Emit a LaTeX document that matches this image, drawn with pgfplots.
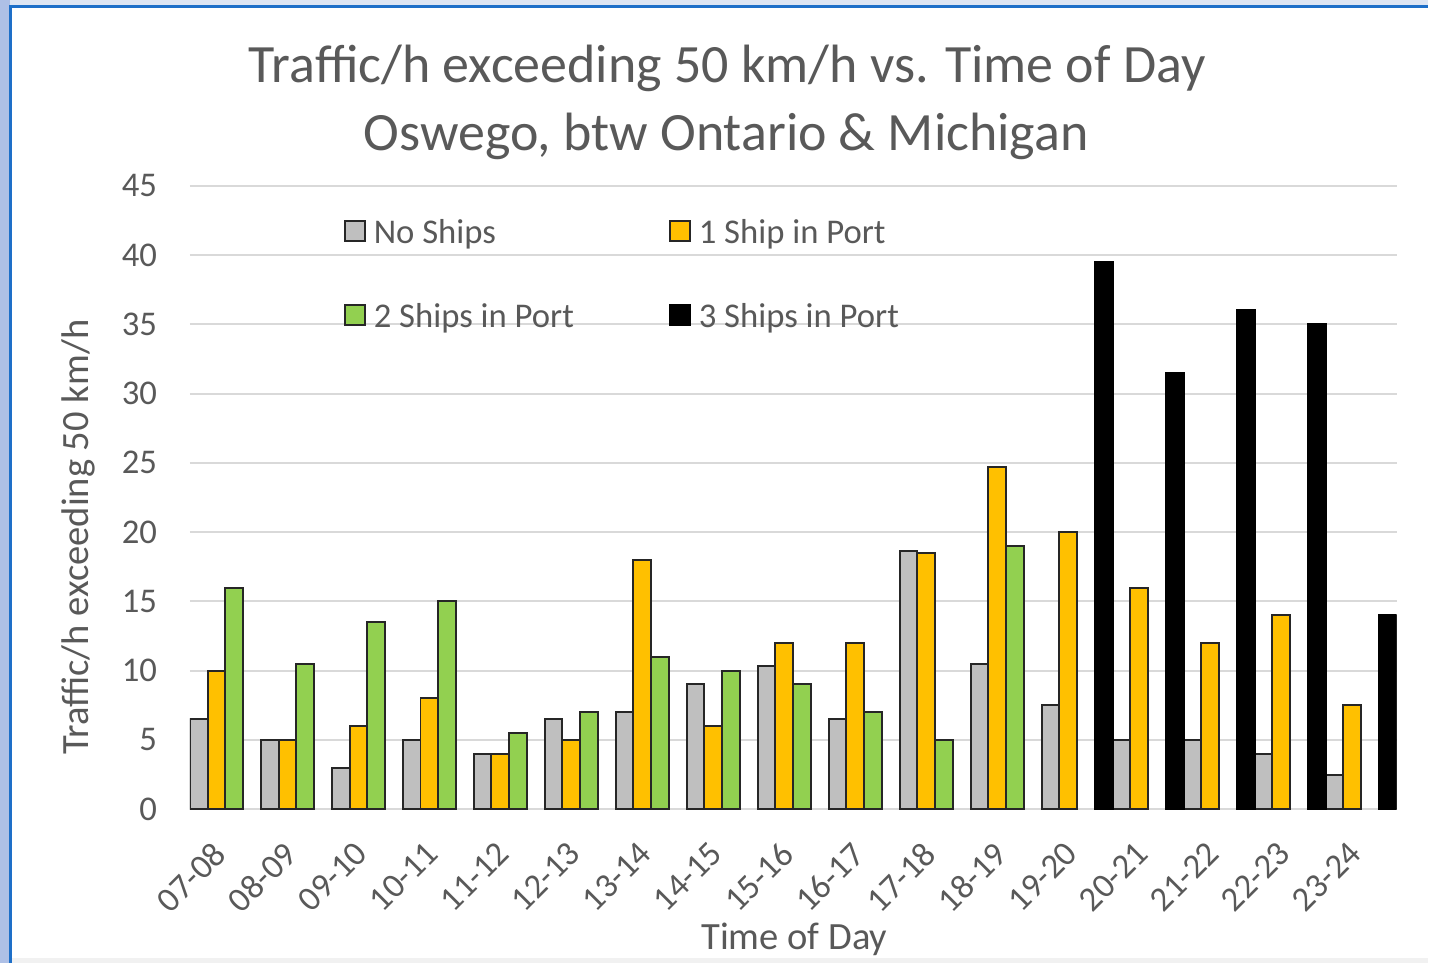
\documentclass[border=0pt]{standalone}
\usepackage{fontspec}
\setmainfont{Carlito}
\usepackage{pgfplots}
\pgfplotsset{compat=1.18}
\usetikzlibrary{backgrounds}

\definecolor{txtgray}{HTML}{595959}
\definecolor{gridgray}{HTML}{D9D9D9}
\definecolor{nofill}{HTML}{BFBFBF}
\definecolor{onefill}{HTML}{FFC000}
\definecolor{twofill}{HTML}{92D050}
\definecolor{barline}{HTML}{262626}
\definecolor{frameblue}{HTML}{1E6FC8}
\definecolor{frametop}{HTML}{DDE5F3}
\definecolor{frameleft}{HTML}{AEC0E6}
\definecolor{framebottom}{HTML}{F1F1F1}

\newcommand\titlefont{\fontsize{54}{65}\selectfont}
\newcommand\labelfont{\fontsize{38.6}{46}\selectfont}
\newcommand\tickfont{\fontsize{34.7}{42}\selectfont}

\begin{document}
\begin{tikzpicture}[x=1pt,y=1pt]
\begin{axis}[
  scale only axis, width=1208pt, height=624pt,
  xmin=-0.5, xmax=16.5, ymin=0, ymax=45,
  ytick={0,5,...,45},
  xtick={0,...,16},
  xticklabels={07-08,08-09,09-10,10-11,11-12,12-13,13-14,14-15,15-16,16-17,17-18,18-19,19-20,20-21,21-22,22-23,23-24},
  axis line style={draw=none},
  major tick length=0pt,
  tick style={draw=none},
  ymajorgrids,
  grid style={gridgray, line width=2pt},
  tick label style={font=\tickfont, text=txtgray},
  /pgf/number format/assume math mode=true,
  yticklabel style={xshift=-29.4pt},
  xticklabel style={xshift=-14pt, yshift=-26pt, rotate=45, anchor=north east},
  xlabel={Time of Day},
  ylabel={Traffic/h exceeding 50 km/h},
  label style={font=\labelfont, text=txtgray},
  xlabel style={at={(axis description cs:0.501,-0.2244)}, anchor=base},
  ylabel style={at={(axis description cs:-0.0919,0.436)}, anchor=center},
  ybar, bar width=0.25,
  legend columns=2,
  legend cell align=left,
  legend style={at={(axis description cs:0.1275,0.947)}, anchor=north west,
    draw=none, fill=none, inner sep=0pt, font=\tickfont, text=txtgray,
    row sep=59pt, nodes={inner sep=0pt},
    /tikz/every even column/.append style={column sep=95pt}},
  legend image code/.code={%
    \draw[#1, line width=2pt] (0pt,-9pt) rectangle (20pt,11pt);
    \path (28pt,0pt);},
]
% No ships
\addplot[fill=nofill, draw=barline, line width=2pt, bar shift=-0.375] coordinates {
  (0,6.5) (1,5) (2,3) (3,5) (4,4) (5,6.5) (6,7) (7,9) (8,10.3) (9,6.5)
  (10,18.6) (11,10.5) (12,7.5) (13,5) (14,5) (15,4) (16,2.5)};
% 1 ship in port
\addplot[fill=onefill, draw=barline, line width=2pt, bar shift=-0.125] coordinates {
  (0,10) (1,5) (2,6) (3,8) (4,4) (5,5) (6,18) (7,6) (8,12) (9,12)
  (10,18.5) (11,24.7) (12,20) (13,16) (14,12) (15,14) (16,7.5)};
% 2 ships in port
\addplot[fill=twofill, draw=barline, line width=2pt, bar shift=0.125] coordinates {
  (0,16) (1,10.5) (2,13.5) (3,15) (4,5.5) (5,7) (6,11) (7,10) (8,9) (9,7)
  (10,5) (11,19)};
% 3 ships in port
\addplot[fill=black, draw=black, line width=2pt, bar shift=0.375] coordinates {
  (12,39.5) (13,31.5) (14,36) (15,35) (16,14)};
\legend{No Ships, 1 Ship in Port, 2 Ships in Port, 3 Ships in Port}
\coordinate (O) at (rel axis cs:0,0);
\end{axis}

% window frame and chart title, placed from the lower left corner of the plot area
\begin{scope}[shift={(O)}]
\begin{scope}[shift={(-190,-154)}]
\begin{pgfonlayer}{background}
\fill[frametop] (0,0) rectangle (1429,964);
\fill[frameleft] (0,0) rectangle (10,964);
\fill[white] (10,0) rectangle (1429,957);
\fill[framebottom] (10,0) rectangle (1429,5);
\draw[frameblue, line width=3pt] (10.5,0) -- (10.5,957) -- (1429,957);
\end{pgfonlayer}
\node[anchor=base, font=\titlefont, text=txtgray] at (728,881) {Traffic/h exceeding 50 km/h vs. Time of Day};
\node[anchor=base, font=\titlefont, text=txtgray] at (727,813) {Oswego, btw Ontario \& Michigan};
\end{scope}
\end{scope}
\end{tikzpicture}
\end{document}
